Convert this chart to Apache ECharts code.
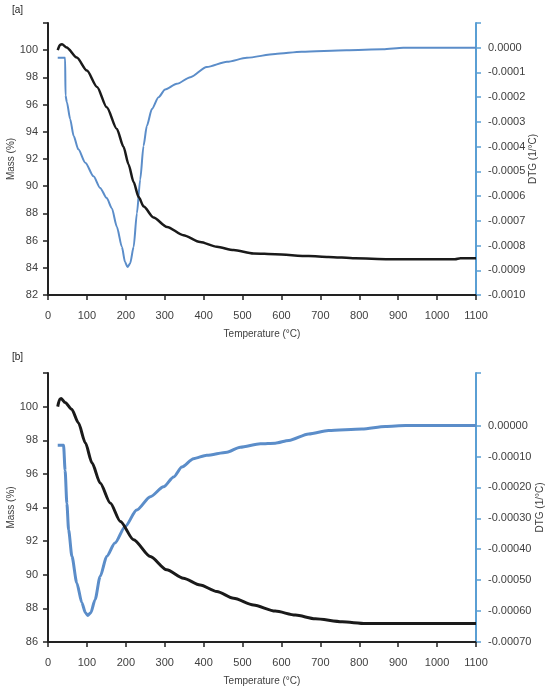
<!DOCTYPE html>
<html>
<head>
<meta charset="utf-8">
<script src="https://cdn.jsdelivr.net/npm/echarts@6.0.0/dist/echarts.min.js"></script>
<style>
  html, body { margin: 0; padding: 0; background: #fff; }
  #main { width: 550px; height: 691px; }
</style>
</head>
<body>
<div id="main"></div>
<script>
// panel [a]
var tempMassA = [25, 31, 36, 48, 74, 100, 126, 151, 177, 194, 207, 220, 233, 246, 271, 306, 348, 391, 434, 477, 528, 584, 670, 721, 789, 875, 1046, 1060, 1100];
var massA = [100.0, 100.4, 100.44, 100.2, 99.46, 98.5, 97.3, 95.8, 94.2, 92.9, 91.6, 90.3, 89.2, 88.5, 87.7, 87.0, 86.4, 85.9, 85.55, 85.3, 85.05, 85.0, 84.86, 84.8, 84.7, 84.63, 84.63, 84.7, 84.7];
var tempDtgA = [25, 44, 45, 48.5, 57, 66, 78, 96, 117, 134, 151, 164, 177, 190, 198, 204.5, 211, 220, 228.5, 237, 245.5, 254, 267, 284, 301, 331, 366, 408, 460, 511, 584, 652, 767, 861, 913, 1100];
// DTG in units of 1e-4 1/°C
var dtgA = [-0.41, -0.41, -1.93, -2.2, -2.89, -3.57, -4.11, -4.65, -5.2, -5.67, -6.08, -6.49, -7.24, -8.06, -8.67, -8.87, -8.73, -8.06, -6.69, -5.33, -3.97, -3.16, -2.48, -2.0, -1.69, -1.46, -1.19, -0.78, -0.57, -0.41, -0.25, -0.16, -0.1, -0.06, 0, 0];

// panel [b]
var tempMassB = [25, 30, 34, 44, 61, 78, 96, 113, 134, 160, 186, 220, 263, 305, 348, 391, 434, 477, 528, 584, 636, 687, 756, 816, 1100];
var massB = [100.0, 100.44, 100.48, 100.24, 99.84, 99.04, 97.85, 96.66, 95.46, 94.27, 93.17, 92.08, 91.08, 90.29, 89.79, 89.39, 89.0, 88.6, 88.2, 87.84, 87.6, 87.38, 87.2, 87.1, 87.1];
var tempDtgB = [25, 40, 44, 48.5, 53, 61.5, 74, 87, 96, 102, 110, 121, 134, 151, 172, 198, 228, 263, 297, 323, 344, 374, 408, 460, 494, 546, 584, 619, 670, 721, 807, 867, 919, 1100];
var dtgB = [-0.64, -0.64, -1.45, -2.52, -3.38, -4.23, -5.09, -5.73, -6.05, -6.14, -6.05, -5.63, -4.88, -4.23, -3.8, -3.27, -2.73, -2.3, -1.98, -1.66, -1.34, -1.07, -0.96, -0.86, -0.70, -0.59, -0.57, -0.48, -0.27, -0.16, -0.11, -0.03, 0, 0];

// tick labels
var dtgTicksA = [-0.0010, -0.0009, -0.0008, -0.0007, -0.0006, -0.0005, -0.0004, -0.0003, -0.0002, -0.0001, 0];
var dtgTicksB = [-0.0007, -0.0006, -0.0005, -0.0004, -0.0003, -0.0002, -0.0001, 0];

var chart = echarts.init(document.getElementById('main'));

function pairs(xs, ys, scale) {
  var out = [];
  for (var i = 0; i < xs.length; i++) out.push([xs[i], ys[i] * (scale || 1)]);
  return out;
}

var labelColor = '#404040';
var blueAxis = '#5a9fd4';
var blueLine = '#5b8dc9';
var font = 'Liberation Sans, Arial, sans-serif';

function xAxisFor(idx) {
  return {
    type: 'value', gridIndex: idx, min: 0, max: 1100, interval: 100,
    name: 'Temperature (°C)', nameLocation: 'middle', nameGap: 34,
    nameTextStyle: { color: labelColor, fontSize: 10, fontFamily: font },
    axisLine: { onZero: false, lineStyle: { color: '#222', width: 2 } },
    axisTick: { length: 5, lineStyle: { color: '#222', width: 1.5 } },
    axisLabel: { color: labelColor, fontSize: 11, fontFamily: font, margin: 15,
      formatter: function (v) { return String(v); } },
    splitLine: { show: false }
  };
}

function massAxis(idx, min) {
  return {
    type: 'value', gridIndex: idx, min: min, max: 102, interval: 2,
    name: 'Mass (%)', nameLocation: 'middle', nameGap: 32, nameMoveOverlap: false,
    nameTextStyle: { color: labelColor, fontSize: 10, fontFamily: font },
    axisLine: { show: true, onZero: false, lineStyle: { color: '#222', width: 2 } },
    axisTick: { show: true, length: 5, lineStyle: { color: '#222', width: 1.5 } },
    axisLabel: {
      color: labelColor, fontSize: 11, fontFamily: font, margin: 10,
      formatter: function (v) { return v >= 102 ? '' : String(v); }
    },
    splitLine: { show: false }
  };
}

function dtgAxis(idx, min, max, ticks, digits, gap) {
  return {
    type: 'value', gridIndex: idx, position: 'right', min: min, max: max,
    name: 'DTG (1/°C)', nameLocation: 'middle', nameGap: gap, nameMoveOverlap: false,
    nameTextStyle: { color: labelColor, fontSize: 10, fontFamily: font },
    axisLine: { show: true, onZero: false, lineStyle: { color: blueAxis, width: 2 } },
    axisTick: { show: true, length: 5, lineStyle: { color: blueAxis, width: 1.5 },
      customValues: ticks.concat([max]) },
    axisLabel: {
      color: labelColor, fontSize: 11, fontFamily: font, margin: 12,
      customValues: ticks,
      formatter: function (v) { return v.toFixed(digits); }
    },
    splitLine: { show: false }
  };
}

function line(data, xi, yi, color, width) {
  return {
    type: 'line', xAxisIndex: xi, yAxisIndex: yi, data: data,
    showSymbol: false, smooth: 0.25, smoothMonotone: 'x',
    lineStyle: { color: color, width: width }, z: color === blueLine ? 2 : 3
  };
}

var option = {
  animation: false,
  backgroundColor: '#fff',
  graphic: [
    { type: 'text', left: 12, top: 5, style: { text: '[a]', fontSize: 10, fill: '#222', fontFamily: font } },
    { type: 'text', left: 12, top: 352, style: { text: '[b]', fontSize: 10, fill: '#222', fontFamily: font } }
  ],
  grid: [
    { left: 48, right: 74, top: 23, height: 272, outerBoundsMode: 'none', containLabel: false },
    { left: 48, right: 74, top: 373, height: 269, outerBoundsMode: 'none', containLabel: false }
  ],
  xAxis: [xAxisFor(0), xAxisFor(1)],
  yAxis: [
    massAxis(0, 82),
    dtgAxis(0, -0.0010, 0.0001, dtgTicksA, 4, 52),
    massAxis(1, 86),
    dtgAxis(1, -0.0007, 0.00017, dtgTicksB, 5, 59)
  ],
  series: [
    line(pairs(tempDtgA, dtgA, 1e-4), 0, 1, blueLine, 2),
    line(pairs(tempMassA, massA), 0, 0, '#1a1a1a', 2.5),
    line(pairs(tempDtgB, dtgB, 1e-4), 1, 3, blueLine, 3),
    line(pairs(tempMassB, massB), 1, 2, '#1a1a1a', 3)
  ]
};

option && chart.setOption(option);
</script>
</body>
</html>
